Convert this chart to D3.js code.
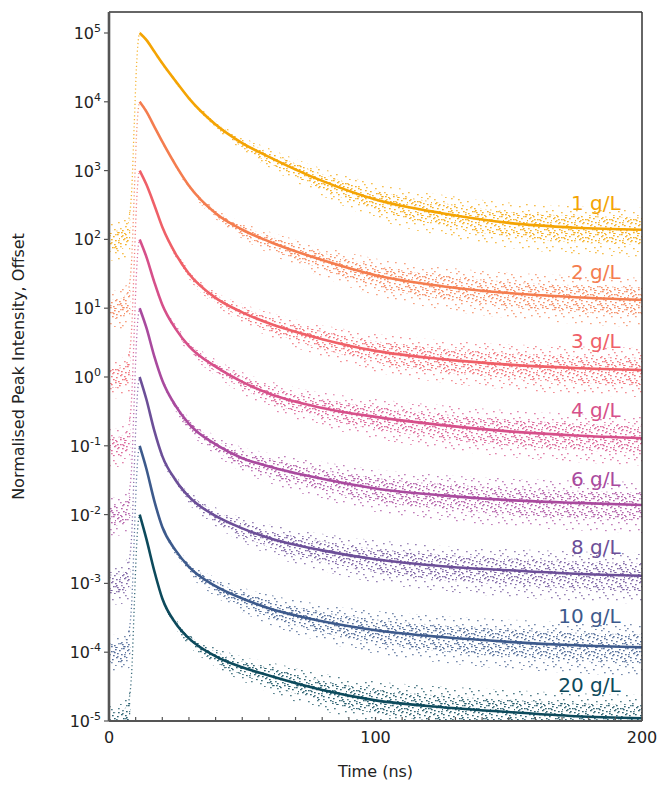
<!DOCTYPE html>
<html>
<head>
<meta charset="utf-8">
<script src="https://cdn.jsdelivr.net/npm/d3@7"></script>
<style>
  body { margin: 0; background: #fff; }
  svg { font-family: "DejaVu Sans", Verdana, sans-serif; }
</style>
</head>
<body>
<svg id="chart" width="659" height="785"></svg>
<script>
// time axis of the fitted decay lines (ns)
const times = [11.5, 14, 17, 20, 25, 30, 40, 50, 60, 80, 100, 125, 150, 175, 200];

const labels  = ["1 g/L", "2 g/L", "3 g/L", "4 g/L", "6 g/L", "8 g/L", "10 g/L", "20 g/L"];
const peakExp = [5, 4, 3, 2, 1, 0, -1, -2]; // offset of each trace (log10 of peak)
const colors  = ["#f4a404", "#f47d4f", "#ef6068", "#d6508a", "#a94a9e", "#6c4f98", "#3d5a8c", "#0d4a5c"];

// fitted decays, log10 relative to the peak
const decay1  = [0, -0.10, -0.27, -0.44, -0.70, -0.95, -1.33, -1.60, -1.80, -2.15, -2.42, -2.62, -2.76, -2.83, -2.86];
const decay2  = [0, -0.14, -0.36, -0.58, -0.92, -1.22, -1.62, -1.86, -2.03, -2.30, -2.52, -2.68, -2.78, -2.84, -2.88];
const decay3  = [0, -0.20, -0.50, -0.82, -1.21, -1.50, -1.85, -2.06, -2.22, -2.45, -2.62, -2.74, -2.82, -2.87, -2.90];
const decay4  = [0, -0.25, -0.62, -0.95, -1.30, -1.55, -1.85, -2.07, -2.24, -2.45, -2.58, -2.70, -2.79, -2.85, -2.89];
const decay6  = [0, -0.28, -0.70, -1.05, -1.42, -1.68, -1.98, -2.18, -2.30, -2.48, -2.62, -2.72, -2.79, -2.83, -2.86];
const decay8  = [0, -0.32, -0.78, -1.15, -1.50, -1.74, -2.02, -2.20, -2.34, -2.52, -2.65, -2.75, -2.81, -2.86, -2.89];
const decay10 = [0, -0.33, -0.80, -1.18, -1.52, -1.76, -2.04, -2.22, -2.36, -2.55, -2.68, -2.78, -2.85, -2.90, -2.93];
const decay20 = [0, -0.35, -0.82, -1.22, -1.58, -1.80, -2.06, -2.22, -2.34, -2.55, -2.70, -2.80, -2.87, -2.93, -2.96];
const decays = [decay1, decay2, decay3, decay4, decay6, decay8, decay10, decay20];

// half-width of the photon-count scatter around each fit (decades)
const spread1  = [0.03, 0.03, 0.03, 0.03, 0.03, 0.04, 0.06, 0.10, 0.14, 0.20, 0.26, 0.30, 0.33, 0.35, 0.36];
const spread2  = [0.03, 0.03, 0.03, 0.03, 0.04, 0.05, 0.08, 0.12, 0.16, 0.22, 0.27, 0.31, 0.33, 0.35, 0.36];
const spread3  = [0.03, 0.03, 0.03, 0.04, 0.05, 0.07, 0.10, 0.14, 0.18, 0.23, 0.28, 0.31, 0.33, 0.35, 0.36];
const spread4  = [0.03, 0.03, 0.04, 0.05, 0.07, 0.09, 0.12, 0.16, 0.20, 0.25, 0.29, 0.32, 0.34, 0.35, 0.36];
const spread6  = [0.03, 0.03, 0.04, 0.05, 0.07, 0.10, 0.14, 0.18, 0.22, 0.27, 0.31, 0.33, 0.35, 0.36, 0.37];
const spread8  = [0.03, 0.03, 0.04, 0.05, 0.07, 0.10, 0.14, 0.18, 0.22, 0.27, 0.31, 0.33, 0.35, 0.36, 0.37];
const spread10 = [0.03, 0.03, 0.04, 0.05, 0.07, 0.10, 0.14, 0.18, 0.22, 0.27, 0.31, 0.34, 0.36, 0.37, 0.38];
const spread20 = [0.03, 0.03, 0.04, 0.05, 0.07, 0.10, 0.14, 0.18, 0.22, 0.27, 0.31, 0.34, 0.36, 0.37, 0.38];
const spreads = [spread1, spread2, spread3, spread4, spread6, spread8, spread10, spread20];

// pre-pulse background and rising edge (log10 relative to peak)
const preTimes  = [0, 3, 6, 8];
const preLevel  = [-3.0, -3.0, -2.95, -2.85];
const preSpread = [0.28, 0.28, 0.3, 0.33];
const riseTimes  = [7.5, 8.5, 9.5, 10.3, 11, 11.5];
const riseLevels = [-2.7, -2.3, -1.3, -0.5, -0.1, 0];

const xTicks = [0, 100, 200];
const yExps  = [5, 4, 3, 2, 1, 0, -1, -2, -3, -4, -5];

const W = 659, H = 785;
const margin = {top: 12, right: 17, bottom: 64, left: 109};
const svg = d3.select("#chart");

const x = d3.scaleLinear().domain([0, 200]).range([margin.left, W - margin.right]);
const y = d3.scaleLog().domain([1e-5, Math.pow(10, 5.305)]).range([H - margin.bottom, margin.top]);

const defs = svg.append("defs");
defs.append("clipPath").attr("id", "plot")
  .append("rect")
  .attr("x", margin.left).attr("y", margin.top)
  .attr("width", W - margin.left - margin.right)
  .attr("height", H - margin.bottom - margin.top);

// dotted fills used to render the scatter of the raw counts
const denseDots = [[1, 2], [5, 0], [9, 3], [13, 1], [17, 2], [21, 0], [3, 5], [7, 6], [11, 7], [15, 5],
  [19, 6], [23, 4], [0, 9], [5, 10], [10, 11], [14, 9], [18, 10], [22, 8], [2, 14], [7, 13], [12, 15],
  [16, 13], [20, 14], [4, 17], [9, 16], [14, 17], [22, 16], [6, 3], [19, 12], [12, 4], [1, 16]];
const sparseDots = [[2, 1], [11, 3], [19, 0], [6, 7], [15, 8], [22, 6], [0, 12], [9, 14], [18, 13],
  [13, 17], [4, 4], [21, 16]];
colors.forEach((c, i) => {
  [["dense", denseDots, 0.85], ["sparse", sparseDots, 0.7]].forEach(([name, pts, op]) => {
    const p = defs.append("pattern")
      .attr("id", `${name}${i}`)
      .attr("patternUnits", "userSpaceOnUse")
      .attr("x", i * 5).attr("y", i * 3)
      .attr("width", 24).attr("height", 18);
    p.selectAll("rect").data(pts).join("rect")
      .attr("x", d => d[0]).attr("y", d => d[1])
      .attr("width", 1.7).attr("height", 1.3)
      .attr("fill", c).attr("opacity", op);
  });
});

const plot = svg.append("g").attr("clip-path", "url(#plot)");

const line = d3.line()
  .x(d => x(d.t))
  .y(d => y(Math.pow(10, d.v)))
  .curve(d3.curveMonotoneX);

// counts scatter a little further below the fit than above it
const band = d3.area()
  .x(d => x(d.t))
  .y0(d => y(Math.pow(10, d.v - d.s * 1.1)))
  .y1(d => y(Math.pow(10, d.v + d.s * 0.9)))
  .curve(d3.curveMonotoneX);

decays.forEach((dec, i) => {
  const e = peakExp[i];
  const pts = times.map((t, j) => ({t: t, v: e + dec[j], s: spreads[i][j]}));
  const pre = preTimes.map((t, j) => ({t: t, v: e + preLevel[j], s: preSpread[j]}));
  const rise = riseTimes.map((t, j) => ({t: t, v: e + riseLevels[j]}));
  const g = plot.append("g");

  // background before the pulse
  g.append("path").attr("d", band(pre)).attr("fill", `url(#sparse${i})`);
  g.append("path").attr("d", band(pre.map(d => ({...d, s: d.s * 0.5})))).attr("fill", `url(#dense${i})`);

  // scatter round the fit
  g.append("path").attr("d", band(pts)).attr("fill", `url(#sparse${i})`);
  g.append("path").attr("d", band(pts.map(d => ({...d, s: d.s * 0.55})))).attr("fill", `url(#dense${i})`);

  // rising edge, only sparse points in the data
  g.append("path").attr("d", line(rise))
    .attr("fill", "none").attr("stroke", colors[i])
    .attr("stroke-width", 1.3).attr("stroke-dasharray", "1.2,2.6").attr("opacity", 0.8);

  // fit
  g.append("path").attr("d", line(pts))
    .attr("fill", "none").attr("stroke", colors[i])
    .attr("stroke-width", 2.6).attr("stroke-linejoin", "round");

  svg.append("text")
    .attr("x", x(192)).attr("y", y(Math.pow(10, e - 2.5)))
    .attr("text-anchor", "end").attr("dominant-baseline", "middle")
    .attr("font-size", 20).attr("fill", colors[i])
    .text(labels[i]);
});

// frame
const axisCol = "#555";
svg.append("line").attr("x1", margin.left).attr("x2", W - margin.right)
  .attr("y1", margin.top).attr("y2", margin.top)
  .attr("stroke", "#333").attr("stroke-width", 1.5);
svg.append("line").attr("x1", W - margin.right).attr("x2", W - margin.right)
  .attr("y1", margin.top).attr("y2", H - margin.bottom)
  .attr("stroke", "#333").attr("stroke-width", 1.5);

// x axis: inward minor ticks every 10 ns
const xAxis = svg.append("g");
xAxis.selectAll("line.tick").data(d3.range(0, 201, 10)).join("line")
  .attr("x1", d => x(d)).attr("x2", d => x(d))
  .attr("y1", H - margin.bottom).attr("y2", H - margin.bottom - 4)
  .attr("stroke", axisCol).attr("stroke-width", 1.2);
xAxis.append("line").attr("x1", margin.left).attr("x2", W - margin.right)
  .attr("y1", H - margin.bottom).attr("y2", H - margin.bottom)
  .attr("stroke", axisCol).attr("stroke-width", 2.2);
xAxis.selectAll("text").data(xTicks).join("text")
  .attr("x", d => x(d)).attr("y", H - margin.bottom + 22)
  .attr("text-anchor", "middle").attr("font-size", 16).attr("fill", "#222")
  .text(d => d);

// y axis: decades with superscript exponents
const yAxis = svg.append("g");
yAxis.append("line").attr("x1", margin.left).attr("x2", margin.left)
  .attr("y1", margin.top).attr("y2", H - margin.bottom)
  .attr("stroke", axisCol).attr("stroke-width", 2.6);
yExps.forEach(e => {
  const yy = y(Math.pow(10, e));
  yAxis.append("line").attr("x1", margin.left - 5).attr("x2", margin.left)
    .attr("y1", yy).attr("y2", yy).attr("stroke", axisCol).attr("stroke-width", 1.2);
  const t = yAxis.append("text")
    .attr("x", margin.left - 8).attr("y", yy + 6)
    .attr("text-anchor", "end").attr("font-size", 16).attr("fill", "#222");
  t.append("tspan").text("10");
  t.append("tspan").attr("dy", -7).attr("font-size", 11).text(e < 0 ? "-" + (-e) : e);
});

svg.append("text")
  .attr("x", (margin.left + W - margin.right) / 2).attr("y", H - 8)
  .attr("text-anchor", "middle").attr("font-size", 16).attr("fill", "#222")
  .text("Time (ns)");

svg.append("text")
  .attr("transform", `translate(24,${(margin.top + H - margin.bottom) / 2}) rotate(-90)`)
  .attr("text-anchor", "middle").attr("font-size", 16).attr("fill", "#222")
  .text("Normalised Peak Intensity, Offset");
</script>
</body>
</html>
